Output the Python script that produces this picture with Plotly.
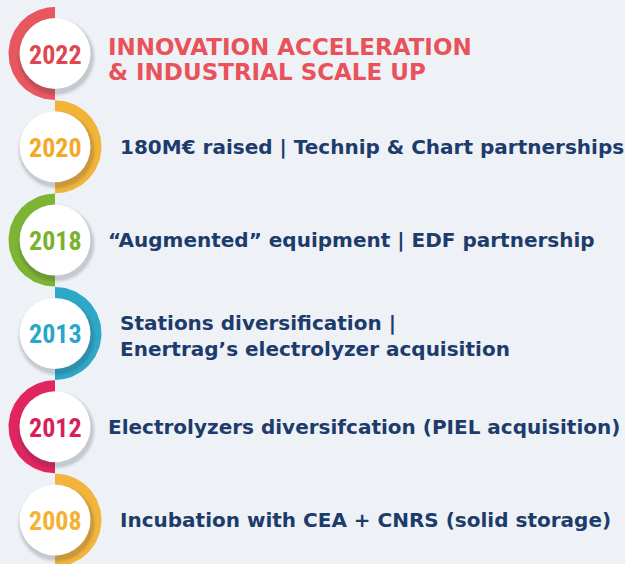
import numpy as np
import plotly.graph_objects as go

# ---- data ----
years = ["2022", "2020", "2018", "2013", "2012", "2008"]
descriptions = [
    ["INNOVATION ACCELERATION", "& INDUSTRIAL SCALE UP"],
    ["180M€ raised | Technip & Chart partnerships"],
    ["“Augmented” equipment | EDF partnership"],
    ["Stations diversification |", "Enertrag’s electrolyzer acquisition"],
    ["Electrolyzers diversifcation (PIEL acquisition)"],
    ["Incubation with CEA + CNRS (solid storage)"],
]
arc_colors = ["#e8565f", "#f1b437", "#7db433", "#2ea8c8", "#e0255f", "#f2b43a"]
year_colors = ["#df4750", "#f4a82a", "#78b22e", "#29a6ca", "#d91f5a", "#f4b232"]
text_colors = ["#e8525b", "#1d3b6b", "#1d3b6b", "#1d3b6b", "#1d3b6b", "#1d3b6b"]

W, H = 625, 564
BG = "#eef2f7"
cx = 55
cy0, step = 53.5, 93.3
r_out, r_in, r_white = 46.5, 34, 35.5

fig = go.Figure()

for i, yr in enumerate(years):
    cy = cy0 + i * step
    left = (i % 2 == 0)
    if left:
        th = np.linspace(np.pi / 2, 3 * np.pi / 2, 80)
    else:
        th = np.linspace(-np.pi / 2, np.pi / 2, 80)
    xo = cx + r_out * np.cos(th)
    yo = cy + r_out * np.sin(th)
    xi = cx + r_in * np.cos(th[::-1])
    yi = cy + r_in * np.sin(th[::-1])
    fig.add_trace(go.Scatter(
        x=np.concatenate([xo, xi, xo[:1]]), y=np.concatenate([yo, yi, yo[:1]]),
        mode="lines", fill="toself", fillcolor=arc_colors[i],
        line=dict(width=0, color=arc_colors[i]), hoverinfo="skip", showlegend=False))

# shadows (soft, layered)
for d, a in [(4.0, 0.04), (3.0, 0.05), (2.0, 0.07), (1.0, 0.08)]:
    fig.add_trace(go.Scatter(
        x=[cx + 1.5] * len(years), y=[cy0 + i * step + 3.5 for i in range(len(years))],
        mode="markers",
        marker=dict(size=2 * (r_white + d), color=f"rgba(60,60,80,{a})", line=dict(width=0)),
        hoverinfo="skip", showlegend=False))

# white circles
fig.add_trace(go.Scatter(
    x=[cx] * len(years), y=[cy0 + i * step for i in range(len(years))],
    mode="markers",
    marker=dict(size=2 * r_white, color="#ffffff", line=dict(width=0)),
    hoverinfo="skip", showlegend=False))

YEAR_FONT = "Roboto Condensed, Noto Sans Condensed, Liberation Sans Narrow, DejaVu Sans Condensed, sans-serif"
annotations = []
for i, yr in enumerate(years):
    cy = cy0 + i * step
    annotations.append(dict(
        x=cx, y=cy + 1, text=f"<b>{yr}</b>", showarrow=False, xanchor="center", yanchor="middle",
        font=dict(family=YEAR_FONT, size=26, color=year_colors[i])))
    lines = descriptions[i]
    tx = 106 if i % 2 == 0 else 118
    lh = 26 if i else 25
    start = cy - (len(lines) - 1) * lh / 2 + (0 if len(lines) == 1 else 3)
    if i == 0:
        start = 47
    for j, ln in enumerate(lines):
        annotations.append(dict(
            x=tx, y=start + j * lh, text=f"<b>{ln}</b>", showarrow=False,
            xanchor="left", yanchor="middle",
            font=dict(family="DejaVu Sans, sans-serif", size=23 if i == 0 else 20,
                      color=text_colors[i])))

fig.update_layout(
    width=W, height=H, margin=dict(l=0, r=0, t=0, b=0),
    paper_bgcolor=BG, plot_bgcolor=BG,
    xaxis=dict(range=[0, W], visible=False, fixedrange=True),
    yaxis=dict(range=[H, 0], visible=False, fixedrange=True),
    annotations=annotations, showlegend=False)

fig.write_html(
    "out.html",
    config={"displayModeBar": False},
    post_script="document.body.style.margin='0';document.body.style.background='" + BG + "';",
)
